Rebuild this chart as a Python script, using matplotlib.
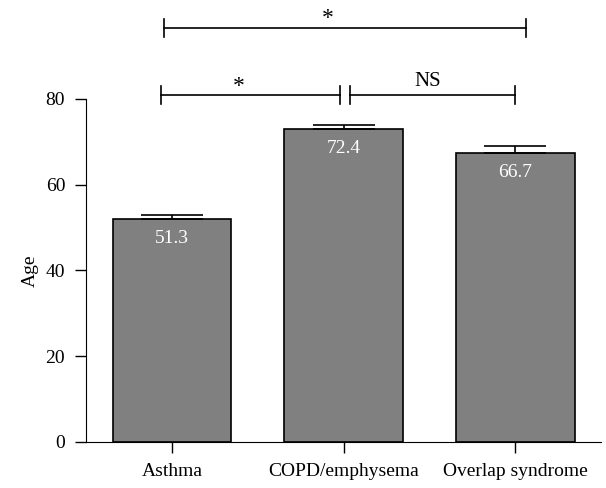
import matplotlib
matplotlib.use("Agg")
import matplotlib.pyplot as plt

# data
groups = ["Asthma", "COPD/emphysema", "Overlap syndrome"]
heights = [52.0, 73.0, 67.4]
labels = ["51.3", "72.4", "66.7"]
err_up = [0.9, 0.9, 1.6]

# significance brackets: (x0, x1, y, text, text_x, text_offset)
brackets = [
    (-0.064, 0.98, 80.9, "*", 0.39, 2.0),
    (1.04, 2.0, 80.9, "NS", 1.49, 3.0),
    (-0.047, 2.06, 96.5, "*", 0.91, 2.2),
]

plt.rcParams["font.family"] = ["Liberation Serif", "DejaVu Serif"]

fig = plt.figure(figsize=(6.06, 4.88), dpi=100)
ax = fig.add_axes([0.142, 0.0943, 0.850, 0.9057])

x = list(range(len(groups)))
ax.bar(x, heights, width=0.69, color="#808080", edgecolor="black", linewidth=1.2, zorder=2)
ax.errorbar(x, heights, yerr=[[0] * 3, err_up], fmt="none", ecolor="black",
            elinewidth=1.2, capsize=22, capthick=1.2, zorder=3)

for xi, h, lab in zip(x, heights, labels):
    ax.annotate(lab, (xi, h), xytext=(0, -14), textcoords="offset points",
                ha="center", va="center", color="white", fontsize=14)

for x0, x1, y, txt, tx, off in brackets:
    ax.plot([x0, x1], [y, y], color="black", lw=1.2, clip_on=False)
    for xe in (x0, x1):
        ax.plot([xe, xe], [y - 2.1, y + 2.1], color="black", lw=1.2, clip_on=False)
    size = 17 if txt == "*" else 15
    ax.text(tx, y + off, txt, ha="center", va="center", fontsize=size)

ax.set_xlim(-0.5, 2.5)
ax.set_ylim(0, 103)
ax.set_yticks([0, 20, 40, 60, 80])
ax.set_xticks(x)
ax.set_xticklabels(groups)
ax.set_ylabel("Age", fontsize=14)
ax.yaxis.set_label_coords(-0.092, 40 / 103)
ax.tick_params(axis="both", labelsize=14, direction="out", length=8, width=1)
ax.tick_params(axis="y", pad=7)
ax.tick_params(axis="x", pad=7)

for s in ("top", "right"):
    ax.spines[s].set_visible(False)
ax.spines["left"].set_bounds(0, 80)

fig.savefig("out.png", dpi=100)
